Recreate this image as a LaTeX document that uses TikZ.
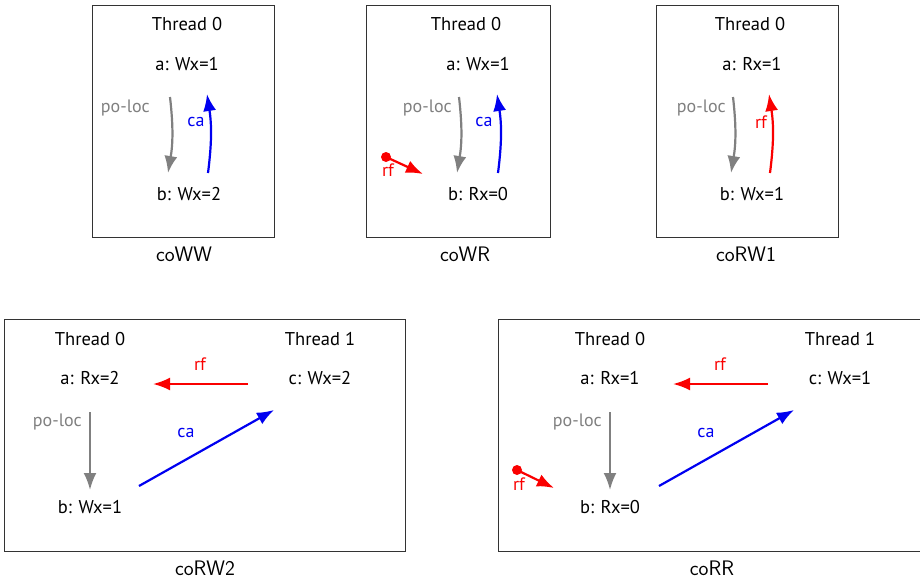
\documentclass[tikz,border=0pt]{standalone}
\usepackage{fontspec}
\setmainfont{PT Sans}
\usetikzlibrary{arrows.meta}
\definecolor{pogray}{RGB}{128,128,128}
\definecolor{cablue}{RGB}{0,0,240}
\definecolor{rfred}{RGB}{250,0,0}
\tikzset{
  box/.style={draw=black!80, line width=0.9pt},
  ev/.style={font=\fontsize{18.5}{21}\selectfont, inner sep=1pt},
  captext/.style={font=\sffamily\fontsize{21}{24}\selectfont, inner sep=1pt},
  lbl/.style={font=\fontsize{18}{21}\selectfont, inner sep=1pt},
  arr/.style={line width=2.2pt, -{Latex[length=17pt,width=13pt]}},
  poarr/.style={arr, draw=pogray},
  caarr/.style={arr, draw=cablue},
  rfarr/.style={arr, draw=rfred},
  polbl/.style={lbl, text=pogray},
  calbl/.style={lbl, text=cablue},
  rflbl/.style={lbl, text=rfred},
}
\begin{document}
\begin{tikzpicture}[x=1pt,y=-1pt]
\useasboundingbox (0,0) rectangle (920,581);
% ---------- coWW ----------
\draw[box] (92,5) rectangle (274,237);
\node[ev] (t0a) at (187,24) {Thread 0};
\node[ev] (aa) at (187,64) {a: Wx=1};
\node[ev] (ba) at (189,194) {b: Wx=2};
\node[captext] (capa) at (184,254) {coWW};
\coordinate (pa1) at (170,97); \coordinate (pa2) at (168,173);
\coordinate (ca1) at (208,173); \coordinate (ca2) at (207,94);
\draw[poarr] (pa1) to[bend left=8] (pa2);
\draw[caarr] (ca1) to[bend right=8] (ca2);
\node[polbl, anchor=east] (pla) at (151,108) {po-loc};
\node[calbl] (cla) at (196,122) {ca};
% ---------- coWR ----------
\draw[box] (366,5) rectangle (550,237);
\node[ev] (t0b) at (466,24) {Thread 0};
\node[ev] (ab) at (478,64) {a: Wx=1};
\node[ev] (bb) at (478,194) {b: Rx=0};
\node[captext] (capb) at (465,254) {coWR};
\coordinate (pb1) at (459,97); \coordinate (pb2) at (457,173);
\coordinate (cb1) at (498,173); \coordinate (cb2) at (497,94);
\draw[poarr] (pb1) to[bend left=8] (pb2);
\draw[caarr] (cb1) to[bend right=8] (cb2);
\node[polbl, anchor=east] (plb) at (453,108) {po-loc};
\node[calbl] (clb) at (484,122) {ca};
\coordinate (rb1) at (386,157); \coordinate (rb2) at (423,174);
\fill[rfred] (rb1) circle (5pt);
\draw[rfarr] (rb1) -- (rb2);
\node[rflbl] (rlb) at (388,170) {rf};
% ---------- coRW1 ----------
\draw[box] (656,5) rectangle (838,237);
\node[ev] (t0c) at (750,24) {Thread 0};
\node[ev] (ac) at (752,64) {a: Rx=1};
\node[ev] (bc) at (752,194) {b: Wx=1};
\node[captext] (capc) at (746,254) {coRW1};
\coordinate (pc1) at (733,97); \coordinate (pc2) at (731,173);
\coordinate (rc1) at (770,173); \coordinate (rc2) at (769,94);
\draw[poarr] (pc1) to[bend left=8] (pc2);
\draw[rfarr] (rc1) to[bend right=8] (rc2);
\node[polbl, anchor=east] (plc) at (727,108) {po-loc};
\node[rflbl] (rlc) at (761,122) {rf};
% ---------- coRW2 ----------
\draw[box] (4,319) rectangle (405,551);
\node[ev] (t0d) at (90,339) {Thread 0};
\node[ev] (t1d) at (320,339) {Thread 1};
\node[ev] (ad) at (90,378) {a: Rx=2};
\node[ev] (cd) at (320,378) {c: Wx=2};
\node[ev] (bd) at (90,507) {b: Wx=1};
\node[captext] (capd) at (205,568) {coRW2};
\coordinate (rd1) at (248,384); \coordinate (rd2) at (153,384);
\draw[rfarr] (rd1) -- (rd2);
\node[rflbl] (rld) at (200,364) {rf};
\coordinate (pd1) at (90,412); \coordinate (pd2) at (90,490);
\draw[poarr] (pd1) -- (pd2);
\node[polbl, anchor=east] (pld) at (83,422) {po-loc};
\coordinate (cd1) at (139,486); \coordinate (cd2) at (274,410);
\draw[caarr] (cd1) -- (cd2);
\node[calbl] (cld) at (186,433) {ca};
% ---------- coRR ----------
\draw[box] (498,319) rectangle (922,551);
\node[ev] (t0e) at (610,339) {Thread 0};
\node[ev] (t1e) at (840,339) {Thread 1};
\node[ev] (ae) at (610,378) {a: Rx=1};
\node[ev] (ce) at (840,378) {c: Wx=1};
\node[ev] (be) at (610,507) {b: Rx=0};
\node[captext] (cape) at (712,568) {coRR};
\coordinate (re1) at (768,384); \coordinate (re2) at (673,384);
\draw[rfarr] (re1) -- (re2);
\node[rflbl] (rle) at (720,364) {rf};
\coordinate (pe1) at (610,412); \coordinate (pe2) at (610,490);
\draw[poarr] (pe1) -- (pe2);
\node[polbl, anchor=east] (ple) at (603,422) {po-loc};
\coordinate (ce1) at (659,486); \coordinate (ce2) at (794,410);
\draw[caarr] (ce1) -- (ce2);
\node[calbl] (cle) at (706,433) {ca};
\coordinate (rs1) at (517,470); \coordinate (rs2) at (554,488);
\fill[rfred] (rs1) circle (5pt);
\draw[rfarr] (rs1) -- (rs2);
\node[rflbl] (rls) at (519,484) {rf};
\end{tikzpicture}
\end{document}
